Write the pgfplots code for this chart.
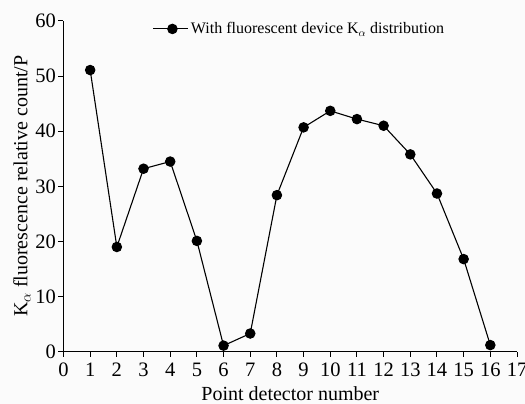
\documentclass[border=0pt]{standalone}
\usepackage{fontspec}
\setmainfont{Liberation Serif}
\usepackage{pgfplots}
\pgfplotsset{compat=1.18}
\definecolor{bgpaper}{RGB}{251,251,251}

\begin{document}
\begin{tikzpicture}
\fill[bgpaper] (-63.5pt,-52.3pt) rectangle (461.5pt,351.7pt);
\begin{axis}[
  scale only axis,
  width=453.5pt, height=330.7pt,
  xmin=0, xmax=17, ymin=0, ymax=60,
  axis lines=left,
  axis line style={-, line width=1.1pt},
  xtick={0,1,...,17},
  ytick={0,10,...,60},
  tick align=outside,
  major tick length=5pt,
  tick style={line width=1pt, black},
  /pgf/number format/assume math mode=true,
  ticklabel style={font=\fontsize{20.5}{22}\selectfont},
  xticklabel style={yshift=-3pt},
  yticklabel style={xshift=1pt},
  label style={font=\fontsize{20}{22}\selectfont},
  xlabel={Point detector number},
  ylabel={K$_\alpha$ fluorescence relative count/P},
  xlabel style={yshift=-3pt},
  ylabel style={yshift=-2pt},
  legend style={draw=none, fill=none, at={(0.19,0.976)}, anchor=west,
    font=\fontsize{16}{18}\selectfont},
  legend image code/.code={
    \draw[mark repeat=2, mark phase=2] plot coordinates {(0pt,0pt) (19pt,0pt) (35pt,0pt)};
  },
]
\addplot[black, line width=1.1pt, mark=*, mark size=4.7pt, mark options={fill=black}]
  coordinates {
    (1,51.1) (2,19.0) (3,33.2) (4,34.5) (5,20.1) (6,1.1) (7,3.3) (8,28.4)
    (9,40.7) (10,43.7) (11,42.2) (12,41.0) (13,35.8) (14,28.7) (15,16.8) (16,1.2)
  };
\addlegendentry{With fluorescent device K$_\alpha$ distribution}
\end{axis}
\pgfresetboundingbox
\path (-63.5pt,-52.3pt) rectangle (461.5pt,351.7pt);
\end{tikzpicture}
\end{document}
